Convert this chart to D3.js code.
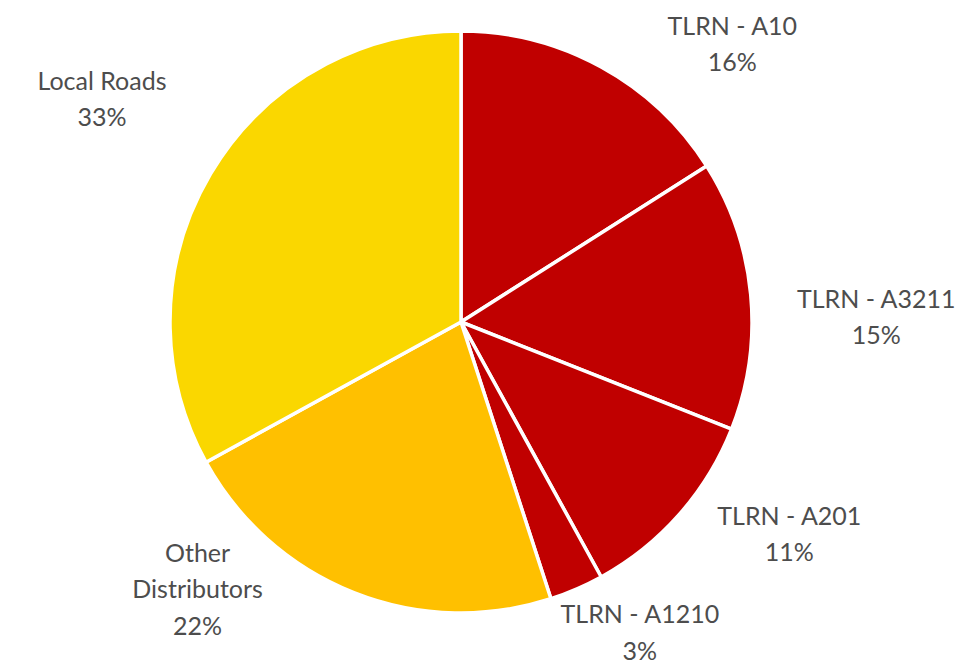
<!DOCTYPE html>
<html>
<head>
<meta charset="utf-8">
<script src="https://cdn.jsdelivr.net/npm/d3@7"></script>
<style>
  html, body { margin: 0; padding: 0; background: #fff; }
  svg { display: block; }
  text { font-family: Lato, "Open Sans", sans-serif; }
</style>
</head>
<body>
<svg id="chart" width="975" height="666"></svg>
<script>
// Share of road network by category
const categories = ["TLRN - A10", "TLRN - A3211", "TLRN - A201", "TLRN - A1210", "Other Distributors", "Local Roads"];
const shares = [16, 15, 11, 3, 22, 33];
const sliceColors = ["#C00000", "#C00000", "#C00000", "#C00000", "#FFC000", "#FAD700"];

// Label layout: lines per label and nudges from the outer label arc
const labelLines = [["TLRN - A10"], ["TLRN - A3211"], ["TLRN - A201"], ["TLRN - A1210"], ["Other", "Distributors"], ["Local Roads"]];
const labelNudge = [[81, 67], [22, 31], [32, -50], [22, -53], [-118, -101], [-19, -23]];

const width = 975, height = 666;
const cx = 461, cy = 322, radius = 291, labelRadius = 395;
const lineGap = 36.5;

const svg = d3.select("#chart");
const g = svg.append("g").attr("transform", `translate(${cx},${cy})`);

const data = categories.map((c, i) => ({ name: c, value: shares[i], i }));

const pie = d3.pie().value(d => d.value).sort(null);
const arcs = pie(data);

const arc = d3.arc().innerRadius(0).outerRadius(radius);
const labelArc = d3.arc().innerRadius(labelRadius).outerRadius(labelRadius);

g.selectAll("path.slice")
  .data(arcs)
  .join("path")
  .attr("class", "slice")
  .attr("d", arc)
  .attr("fill", d => sliceColors[d.data.i])
  .attr("stroke", "#fff")
  .attr("stroke-width", 3.5)
  .attr("stroke-linejoin", "round");

const labels = g.selectAll("g.label")
  .data(arcs)
  .join("g")
  .attr("class", "label")
  .attr("transform", d => {
    const [x, y] = labelArc.centroid(d);
    const [nx, ny] = labelNudge[d.data.i];
    return `translate(${x + nx},${y + ny})`;
  });

labels.each(function(d) {
  const lines = labelLines[d.data.i].concat([`${d.data.value}%`]);
  const n = lines.length;
  d3.select(this).selectAll("text")
    .data(lines)
    .join("text")
    .attr("x", 0)
    .attr("y", (t, k) => (k - (n - 1) / 2) * lineGap)
    .attr("text-anchor", "middle")
    .attr("dominant-baseline", "central")
    .attr("font-size", 25)
    .attr("fill", "#4d4d4d")
    .text(t => t);
});
</script>
</body>
</html>
